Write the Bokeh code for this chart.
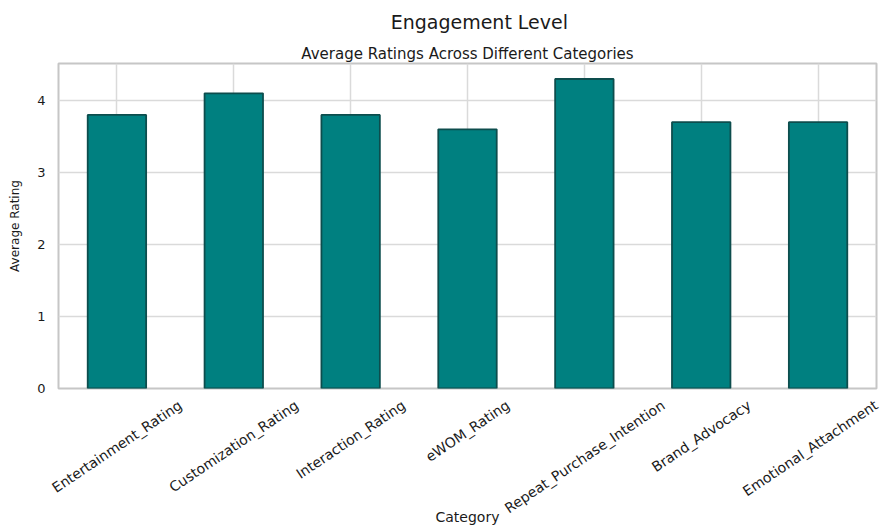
import math
from bokeh.plotting import figure
from bokeh.models import (Range1d, FixedTicker, Title, CustomJSTickFormatter)
from bokeh.embed import file_html
from bokeh.resources import INLINE

# ---- data ----
categories = ["Entertainment_Rating", "Customization_Rating", "Interaction_Rating",
              "eWOM_Rating", "Repeat_Purchase_Intention", "Brand_Advocacy",
              "Emotional_Attachment"]
ratings = [3.8, 4.1, 3.8, 3.6, 4.3, 3.7, 3.7]
y_ticks = [0, 1, 2, 3, 4]

title_text = "Engagement Level"
subtitle_text = "Average Ratings Across Different Categories"
x_label = "Category"
y_label = "Average Rating"

# ---- style ----
FONT = "DejaVu Sans"
TEXT = "#1a1a1a"
BAR_FILL = "#008080"
BAR_EDGE = "#0d4d4d"
GRID = "#dadada"
FRAME = "#c6c6c6"

W, H = 882, 527
BL, BT, BR, BB = 58, 63, 6, 139
TICK_FS = 14
ANG = math.radians(34)

# approximate DejaVu Sans advance widths (units of 1/2048 em) to centre rotated labels
_DJV = {' ': 651, '_': 1024, 'a': 1255, 'b': 1300, 'c': 1126, 'd': 1300, 'e': 1260,
        'f': 721, 'g': 1300, 'h': 1298, 'i': 569, 'j': 569, 'k': 1186, 'l': 569,
        'm': 1995, 'n': 1298, 'o': 1253, 'p': 1300, 'q': 1300, 'r': 842, 's': 1067,
        't': 803, 'u': 1298, 'v': 1212, 'w': 1675, 'x': 1212, 'y': 1212, 'z': 1075,
        'A': 1401, 'B': 1405, 'C': 1430, 'D': 1577, 'E': 1294, 'I': 604, 'L': 1141,
        'M': 1767, 'O': 1612, 'P': 1235, 'R': 1423, 'W': 2025}


def text_width(s, size):
    return sum(_DJV.get(c, 1250) for c in s) / 2048 * size


idx = list(range(len(categories)))
y_top = max(ratings) * 1.05
x_lo, x_hi = -0.5, len(categories) - 0.5
frame_w = W - BL - BR
px_per_cat = frame_w / len(categories)

p = figure(width=W, height=H, output_backend="svg", toolbar_location=None, title=None,
           x_range=Range1d(x_lo, x_hi), y_range=Range1d(0, y_top),
           min_border_left=BL, min_border_right=BR, min_border_top=BT, min_border_bottom=BB,
           background_fill_color="white", border_fill_color="white", outline_line_color=FRAME)

p.vbar(x=idx, top=ratings, bottom=0, width=0.5, fill_color=BAR_FILL,
       line_color=BAR_EDGE, line_width=1.8)

# label ticks shifted so each rotated label is centred under its bar (matplotlib look);
# a label anchor cannot leave the frame, so it is held at the frame edge
label_pos = [min(i + (text_width(s, TICK_FS) / 2) * math.cos(ANG) / px_per_cat, x_hi - 1e-6)
             for i, s in zip(idx, categories)]
p.xaxis.ticker = FixedTicker(ticks=label_pos)
p.xaxis.formatter = CustomJSTickFormatter(args=dict(cats=categories),
                                          code="return cats[index];")
p.xgrid.ticker = FixedTicker(ticks=idx)
p.yaxis.ticker = FixedTicker(ticks=y_ticks)
p.grid.grid_line_color = GRID
p.grid.grid_line_width = 1.5
p.outline_line_width = 2

for ax in (p.xaxis[0], p.yaxis[0]):
    ax.axis_line_color = None
    ax.major_tick_line_color = None
    ax.minor_tick_line_color = None
    ax.major_tick_out = 0
    ax.major_tick_in = 0
    ax.axis_label_text_font = FONT
    ax.axis_label_text_font_style = "normal"
    ax.axis_label_text_color = TEXT
    ax.major_label_text_font = FONT
    ax.major_label_text_color = TEXT

p.xaxis.major_label_text_font_size = f"{TICK_FS}px"
p.xaxis.major_label_orientation = ANG
p.xaxis.major_label_standoff = 15
p.xaxis.axis_label = x_label
p.xaxis.axis_label_text_font_size = "14px"
p.xaxis.axis_label_standoff = -17

p.yaxis.major_label_text_font_size = "13px"
p.yaxis.major_label_standoff = 13
p.yaxis.axis_label = y_label
p.yaxis.axis_label_text_font_size = "12px"
p.yaxis.axis_label_standoff = 12

# titles: subtitle nearest the frame, main title above it
p.add_layout(Title(text=subtitle_text, align="center", text_font=FONT,
                   text_font_size="15px", text_font_style="normal", text_color=TEXT,
                   standoff=2), "above")
main_w = text_width(title_text, 19)
p.add_layout(Title(text=title_text, align="left", offset=frame_w / 2 + 12 - main_w / 2,
                   text_font=FONT, text_font_size="19px", text_font_style="normal",
                   text_color=TEXT, standoff=17), "above")

open("out.html", "w").write(file_html(p, INLINE))
